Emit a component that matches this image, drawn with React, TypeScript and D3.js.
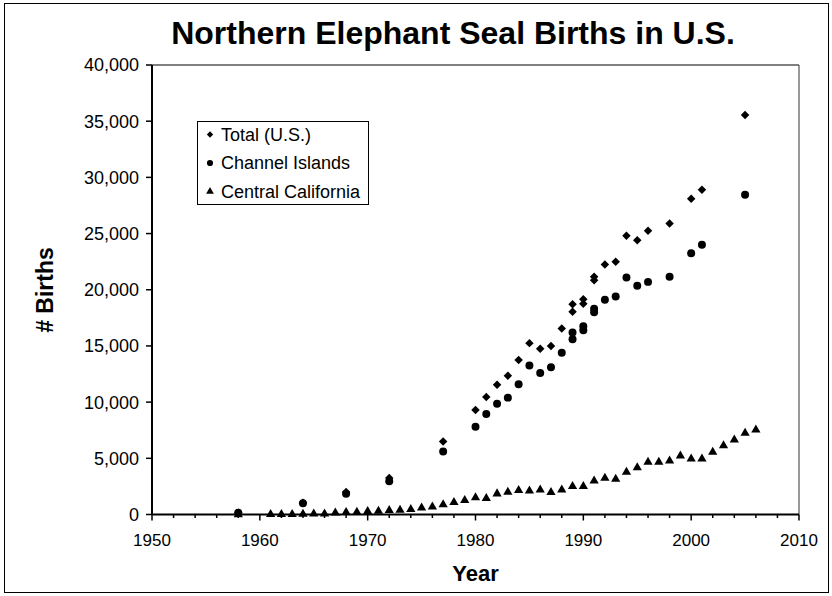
import * as d3 from "d3";

const totalYears = [1958, 1964, 1968, 1972, 1977, 1980, 1981, 1982, 1983, 1984, 1985, 1986, 1987, 1988, 1989, 1989, 1990, 1990, 1991, 1991, 1992, 1993, 1994, 1995, 1996, 1998, 2000, 2001, 2005];
const totalBirths = [150, 1050, 2000, 3250, 6500, 9300, 10450, 11550, 12350, 13750, 15250, 14750, 15000, 16550, 18700, 18050, 19150, 18750, 21150, 20850, 22250, 22500, 24800, 24400, 25250, 25900, 28100, 28900, 35550];
const channelBirths = [150, 1000, 1850, 2950, 5600, 7800, 8950, 9850, 10400, 11600, 13250, 12600, 13100, 14400, 16200, 15600, 16750, 16400, 18300, 18000, 19100, 19400, 21100, 20350, 20700, 21150, 23250, 24000, 28450];

const centralYears = [1958, 1961, 1962, 1963, 1964, 1965, 1966, 1967, 1968, 1969, 1970, 1971, 1972, 1973, 1974, 1975, 1976, 1977, 1978, 1979, 1980, 1981, 1982, 1983, 1984, 1985, 1986, 1987, 1988, 1989, 1990, 1991, 1992, 1993, 1994, 1995, 1996, 1997, 1998, 1999, 2000, 2001, 2002, 2003, 2004, 2005, 2006];
const centralBirths = [0, 10, 10, 20, 40, 50, 70, 150, 200, 210, 290, 300, 360, 390, 450, 590, 690, 890, 1090, 1250, 1500, 1430, 1850, 2000, 2150, 2100, 2200, 1980, 2200, 2500, 2500, 3000, 3250, 3150, 3780, 4180, 4660, 4660, 4780, 5220, 4960, 4960, 5550, 6140, 6650, 7240, 7540];

const yTicks = [0, 5000, 10000, 15000, 20000, 25000, 30000, 35000, 40000];
const xTicks = [1950, 1960, 1970, 1980, 1990, 2000, 2010];
const legendLabels = ["Total (U.S.)", "Channel Islands", "Central California"];

const W = 832;
const H = 596;
const left = 152;
const right = 799;
const top = 65;
const bottom = 514.5;
const font = "'Liberation Sans', Arial, sans-serif";

export default function App() {
  const x = d3.scaleLinear().domain([1950, 2010]).range([left, right]);
  const y = d3.scaleLinear().domain([0, 40000]).range([bottom, top]);

  const diamond = d3.symbol().type(d3.symbolSquare).size(36)()!;
  const circle = d3.symbol().type(d3.symbolCircle).size(50)()!;
  const triangle = d3.symbol().type(d3.symbolTriangle).size(37)()!;
  const legDiamond = d3.symbol().type(d3.symbolSquare).size(20)()!;
  const legCircle = d3.symbol().type(d3.symbolCircle).size(30)()!;
  const legTriangle = d3.symbol().type(d3.symbolTriangle).size(26)()!;

  const minor = d3.range(1950, 2011, 2);

  return (
    <svg
      width={W}
      height={H}
      style={{ position: "absolute", left: 0, top: 0, background: "#fff" }}
      fontFamily={font}
    >
      <rect x={4.5} y={3.5} width={824} height={589} fill="#fff" stroke="#000" strokeWidth={1} />

      <text x={453} y={44} textAnchor="middle" fontSize={32} fontWeight="bold">
        Northern Elephant Seal Births in U.S.
      </text>

      {/* plot area frame */}
      <line x1={left} x2={right} y1={top} y2={top} stroke="#000" strokeWidth={1} />
      <line x1={right} x2={right} y1={top} y2={bottom} stroke="#333" strokeWidth={1} />

      {/* y axis */}
      <line x1={left} x2={left} y1={top} y2={bottom} stroke="#000" strokeWidth={2} />
      {yTicks.map((t) => (
        <g key={t}>
          <line x1={left - 6} x2={left} y1={y(t)} y2={y(t)} stroke="#000" strokeWidth={1.5} />
          <text x={left - 13} y={y(t)} dy="0.36em" textAnchor="end" fontSize={18}>
            {d3.format(",")(t)}
          </text>
        </g>
      ))}

      {/* x axis */}
      <line x1={left} x2={right} y1={bottom} y2={bottom} stroke="#000" strokeWidth={2} />
      {minor.map((t) => (
        <line key={t} x1={x(t)} x2={x(t)} y1={bottom} y2={bottom + (t % 10 === 0 ? 6 : 3.5)} stroke="#000" strokeWidth={1.5} />
      ))}
      {xTicks.map((t) => (
        <text key={t} x={x(t)} y={546} textAnchor="middle" fontSize={17}>
          {t}
        </text>
      ))}

      <text x={x(1980)} y={581} textAnchor="middle" fontSize={22} fontWeight="bold">
        Year
      </text>
      <text transform="translate(53,290) rotate(-90)" textAnchor="middle" fontSize={23} fontWeight="bold">
        # Births
      </text>

      {/* series */}
      {centralYears.map((yr, i) => (
        <path key={"c" + i} d={triangle} transform={`translate(${x(yr)},${y(centralBirths[i])})`} fill="#000" />
      ))}
      {totalYears.map((yr, i) => (
        <path key={"ch" + i} d={circle} transform={`translate(${x(yr)},${y(channelBirths[i])})`} fill="#000" />
      ))}
      {totalYears.map((yr, i) => (
        <path key={"t" + i} d={diamond} transform={`translate(${x(yr)},${y(totalBirths[i])}) rotate(45)`} fill="#000" />
      ))}

      {/* legend */}
      <rect x={197.5} y={121.5} width={171} height={83} fill="#fff" stroke="#000" strokeWidth={1} />
      {legendLabels.map((lab, i) => {
        const cy = 134.5 + i * 28.5;
        const d = i === 0 ? legDiamond : i === 1 ? legCircle : legTriangle;
        return (
          <g key={lab}>
            <path d={d} transform={`translate(210,${cy})${i === 0 ? " rotate(45)" : ""}`} fill="#000" />
            <text x={221} y={cy} dy="0.36em" fontSize={18}>
              {lab}
            </text>
          </g>
        );
      })}
    </svg>
  );
}
